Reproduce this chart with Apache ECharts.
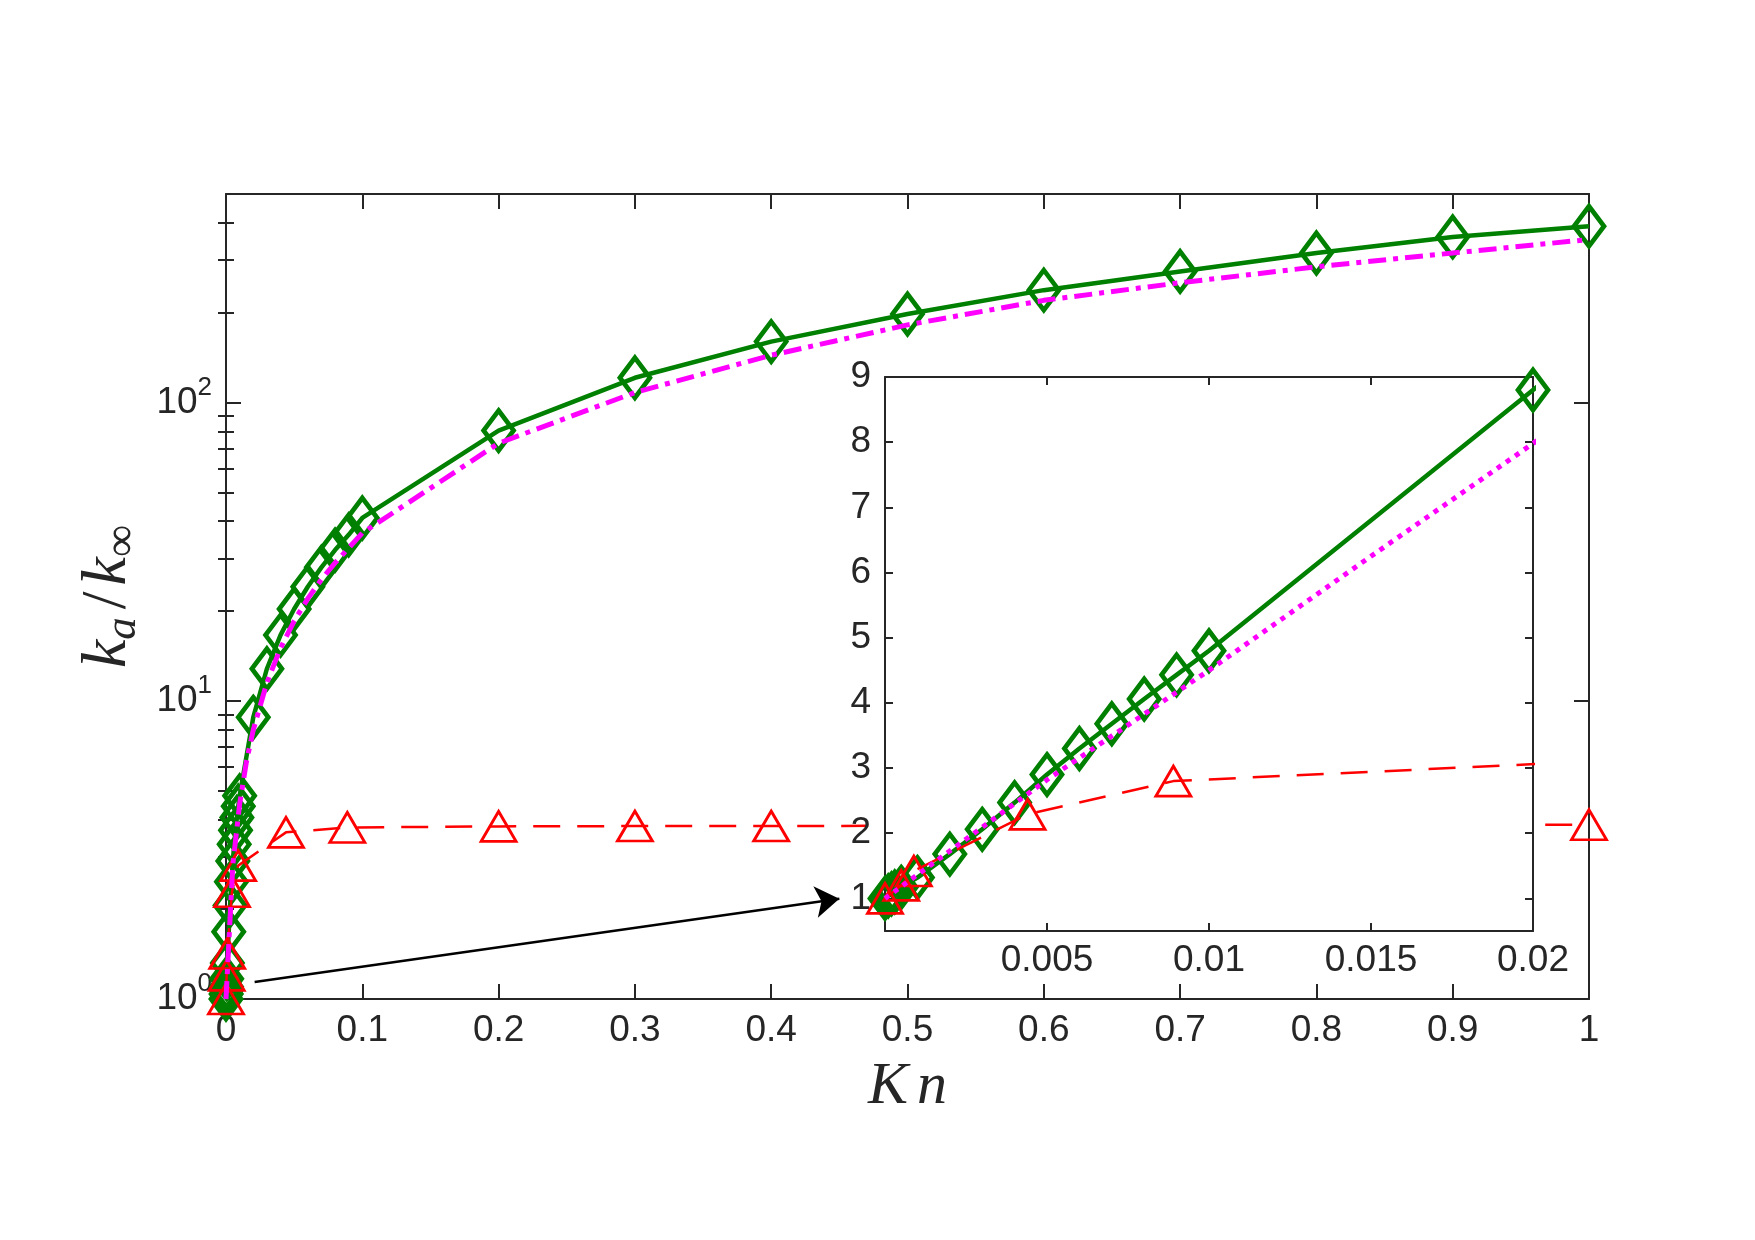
<!DOCTYPE html>
<html><head><meta charset="utf-8">
<script src="https://cdn.jsdelivr.net/npm/echarts@6/dist/echarts.min.js"></script>
<style>html,body{margin:0;padding:0;background:#fff}#c{width:1755px;height:1240px}</style>
</head><body><div id="c"></div>
<script>
// ---- data ----
const KN_GREEN = [0, 0.0001, 0.0002, 0.0003, 0.0005, 0.001, 0.002, 0.003, 0.004, 0.005, 0.006, 0.007, 0.008, 0.009, 0.01,
  0.02, 0.03, 0.04, 0.05, 0.06, 0.07, 0.08, 0.09, 0.1, 0.2, 0.3, 0.4, 0.5, 0.6, 0.7, 0.8, 0.9, 1.0];
const K_GREEN = [1.0, 1.04, 1.07, 1.1, 1.17, 1.32, 1.68, 2.06, 2.47, 2.9, 3.3, 3.68, 4.06, 4.43, 4.8,
  8.8, 12.8, 16.6, 20.3, 24.1, 28.0, 32.0, 36.0, 41.0, 80.5, 121, 160, 198, 238, 275, 317, 359, 390];

const KN_MAGENTA = [0, 0.005, 0.01, 0.015, 0.02, 0.03, 0.04, 0.05, 0.06, 0.07, 0.08, 0.09, 0.1,
  0.2, 0.3, 0.4, 0.5, 0.6, 0.7, 0.8, 0.9, 1.0];
const K_MAGENTA = [1.0, 2.82, 4.5, 6.25, 7.98, 11.5, 15.0, 18.5, 22.0, 25.5, 29.0, 32.5, 36.5,
  73, 108, 144, 182, 220, 252, 285, 317, 352];

const KN_RED = [0, 0.0005, 0.00089, 0.0044, 0.0089, 0.044, 0.089, 0.2, 0.3, 0.4, 0.5, 0.6, 0.7, 0.8, 0.9, 1.0];
const K_RED = [1.0, 1.2, 1.42, 2.29, 2.8, 3.62, 3.76, 3.79, 3.8, 3.8, 3.81, 3.81, 3.82, 3.82, 3.83, 3.84];

const MAIN_Y_MAJOR = [1, 10, 100];
const MAIN_Y_EXP = ['0', '1', '2'];
const MAIN_Y_MINOR = [2, 3, 4, 5, 6, 7, 8, 9, 20, 30, 40, 50, 60, 70, 80, 90, 200, 300, 400];
const INSET_Y_TICKS = [1, 2, 3, 4, 5, 6, 7, 8, 9];
const ARROW = [[0.021, 1.14], [0.45, 2.17]];

// ---- styling ----
const AX = '#262626';
const FONT = '"Liberation Sans", Arial, Helvetica, sans-serif';
const SERIF = '"Liberation Serif", "Times New Roman", serif';
const GREEN = '#008000', RED = '#ff0000', MAGENTA = '#ff00ff';

function pairs(xs, ys) { return xs.map((x, i) => [x, ys[i]]); }
function expLabel(v) {
  let best = 0, d = Infinity;
  MAIN_Y_MAJOR.forEach((m, i) => { const dd = Math.abs(Math.log10(v) - Math.log10(m)); if (dd < d) { d = dd; best = i; } });
  return '{b|10}{s|' + MAIN_Y_EXP[best] + '}';
}
const lineAx = { show: true, onZero: false, lineStyle: { color: AX, width: 2 } };
const tickLab = { color: AX, fontFamily: FONT, fontSize: 37 };

const option = {
  animation: false,
  backgroundColor: '#ffffff',
  grid: [
    { left: 226, top: 194, width: 1363, height: 805, show: false },
    { left: 885, top: 377, width: 648, height: 554, show: true, backgroundColor: '#ffffff', borderWidth: 0, z: 5 }
  ],
  xAxis: [
    { gridIndex: 0, type: 'value', min: 0, max: 1, interval: 0.1, position: 'bottom',
      axisLine: lineAx, splitLine: { show: false },
      axisTick: { show: true, inside: true, length: 15, lineStyle: { color: AX, width: 2 } },
      axisLabel: Object.assign({ margin: 13 }, tickLab),
      name: '{K|K}{n|n}', nameLocation: 'middle', nameGap: 58,
      nameTextStyle: { rich: {
        K: { fontFamily: SERIF, fontStyle: 'italic', fontSize: 60, color: AX, padding: [0, 9, 0, 0] },
        n: { fontFamily: SERIF, fontStyle: 'italic', fontSize: 60, color: AX } } } },
    { gridIndex: 0, type: 'value', min: 0, max: 1, interval: 0.1, position: 'top',
      axisLine: lineAx, splitLine: { show: false }, axisLabel: { show: false },
      axisTick: { show: true, inside: true, length: 15, lineStyle: { color: AX, width: 2 } } },
    { gridIndex: 1, type: 'value', min: 0, max: 0.02, interval: 0.005, position: 'bottom', z: 6,
      axisLine: lineAx, splitLine: { show: false },
      axisTick: { show: true, inside: true, length: 8, lineStyle: { color: AX, width: 2 } },
      axisLabel: Object.assign({ margin: 11, formatter: v => (v === 0 ? '' : String(v)) }, tickLab) },
    { gridIndex: 1, type: 'value', min: 0, max: 0.02, interval: 0.005, position: 'top', z: 6,
      axisLine: lineAx, splitLine: { show: false }, axisLabel: { show: false },
      axisTick: { show: true, inside: true, length: 8, lineStyle: { color: AX, width: 2 } } }
  ],
  yAxis: [
    { gridIndex: 0, type: 'log', logBase: 10, min: 1, max: 500, position: 'left',
      axisLine: lineAx, splitLine: { show: false },
      axisTick: { show: true, inside: true, length: 15, customValues: MAIN_Y_MAJOR, lineStyle: { color: AX, width: 2 } },
      axisLabel: { show: true, margin: 14, customValues: MAIN_Y_MAJOR, formatter: expLabel,
        rich: { b: { fontFamily: FONT, fontSize: 37, color: AX, lineHeight: 56 },
                s: { fontFamily: FONT, fontSize: 26, color: AX, lineHeight: 24, verticalAlign: 'top' } } },
      name: '{i|k}{sa|a}{r|/}{i|k}{sr|∞}', nameLocation: 'middle', nameGap: 80, nameRotate: 90,
      nameTextStyle: { rich: {
        i: { fontFamily: SERIF, fontStyle: 'italic', fontSize: 64, color: AX, lineHeight: 74 },
        sa: { fontFamily: SERIF, fontStyle: 'italic', fontSize: 45, color: AX, lineHeight: 45, verticalAlign: 'bottom', padding: [0, 6, 0, 0] },
        r: { fontFamily: SERIF, fontSize: 64, color: AX, lineHeight: 74, padding: [0, 6, 0, 2] },
        sr: { fontFamily: SERIF, fontSize: 45, color: AX, lineHeight: 45, verticalAlign: 'bottom' } } } },
    { gridIndex: 0, type: 'log', logBase: 10, min: 1, max: 500, position: 'left',
      axisLine: { show: false }, splitLine: { show: false }, axisLabel: { show: false },
      axisTick: { show: true, inside: true, length: 8, customValues: MAIN_Y_MINOR, lineStyle: { color: AX, width: 2 } } },
    { gridIndex: 0, type: 'log', logBase: 10, min: 1, max: 500, position: 'right',
      axisLine: lineAx, splitLine: { show: false }, axisLabel: { show: false },
      axisTick: { show: true, inside: true, length: 15, customValues: MAIN_Y_MAJOR, lineStyle: { color: AX, width: 2 } } },
    { gridIndex: 0, type: 'log', logBase: 10, min: 1, max: 500, position: 'right',
      axisLine: { show: false }, splitLine: { show: false }, axisLabel: { show: false },
      axisTick: { show: true, inside: true, length: 8, customValues: MAIN_Y_MINOR, lineStyle: { color: AX, width: 2 } } },
    { gridIndex: 1, type: 'value', min: 0.5, max: 9, position: 'left', z: 6,
      axisLine: lineAx, splitLine: { show: false },
      axisTick: { show: true, inside: true, length: 8, customValues: INSET_Y_TICKS, lineStyle: { color: AX, width: 2 } },
      axisLabel: Object.assign({ margin: 14, customValues: INSET_Y_TICKS }, tickLab) },
    { gridIndex: 1, type: 'value', min: 0.5, max: 9, position: 'right', z: 6,
      axisLine: lineAx, splitLine: { show: false }, axisLabel: { show: false },
      axisTick: { show: true, inside: true, length: 8, customValues: INSET_Y_TICKS, lineStyle: { color: AX, width: 2 } } }
  ],
  series: [
    { type: 'line', xAxisIndex: 0, yAxisIndex: 0, z: 2, data: pairs(KN_GREEN, K_GREEN),
      showAllSymbol: true, symbol: 'diamond', symbolSize: [30, 40],
      lineStyle: { color: GREEN, width: 4.5 },
      itemStyle: { color: 'rgba(0,0,0,0)', borderColor: GREEN, borderWidth: 4.8 },
      markLine: { silent: true, symbol: ['none', 'arrow'], symbolSize: 24,
        label: { show: false }, lineStyle: { color: '#000', width: 2.5, type: 'solid' },
        emphasis: { disabled: true },
        data: [[{ coord: ARROW[0] }, { coord: ARROW[1] }]] } },
    { type: 'line', xAxisIndex: 0, yAxisIndex: 0, z: 3, data: pairs(KN_RED, K_RED),
      showAllSymbol: true, symbol: 'triangle', symbolSize: [35, 30],
      lineStyle: { color: RED, width: 2.5, type: [27, 17] },
      itemStyle: { color: 'rgba(0,0,0,0)', borderColor: RED, borderWidth: 2.8 } },
    { type: 'line', xAxisIndex: 0, yAxisIndex: 0, z: 4, data: pairs(KN_MAGENTA, K_MAGENTA),
      symbol: 'none', lineStyle: { color: MAGENTA, width: 5, type: [18, 7, 5, 7] } },

    { type: 'line', xAxisIndex: 2, yAxisIndex: 4, z: 7, data: pairs(KN_GREEN, K_GREEN),
      showAllSymbol: true, symbol: 'diamond', symbolSize: [30, 40],
      lineStyle: { color: GREEN, width: 4.5 },
      itemStyle: { color: 'rgba(0,0,0,0)', borderColor: GREEN, borderWidth: 4.8 } },
    { type: 'line', xAxisIndex: 2, yAxisIndex: 4, z: 8, data: pairs(KN_RED, K_RED),
      showAllSymbol: true, symbol: 'triangle', symbolSize: [35, 30],
      lineStyle: { color: RED, width: 2.5, type: [27, 17] },
      itemStyle: { color: 'rgba(0,0,0,0)', borderColor: RED, borderWidth: 2.8 } },
    { type: 'line', xAxisIndex: 2, yAxisIndex: 4, z: 9, data: pairs(KN_MAGENTA, K_MAGENTA),
      symbol: 'none', lineStyle: { color: MAGENTA, width: 5, type: [5, 6] } }
  ]
};
const chart = echarts.init(document.getElementById('c'), null, { renderer: 'canvas' });
chart.setOption(option);
</script></body></html>
